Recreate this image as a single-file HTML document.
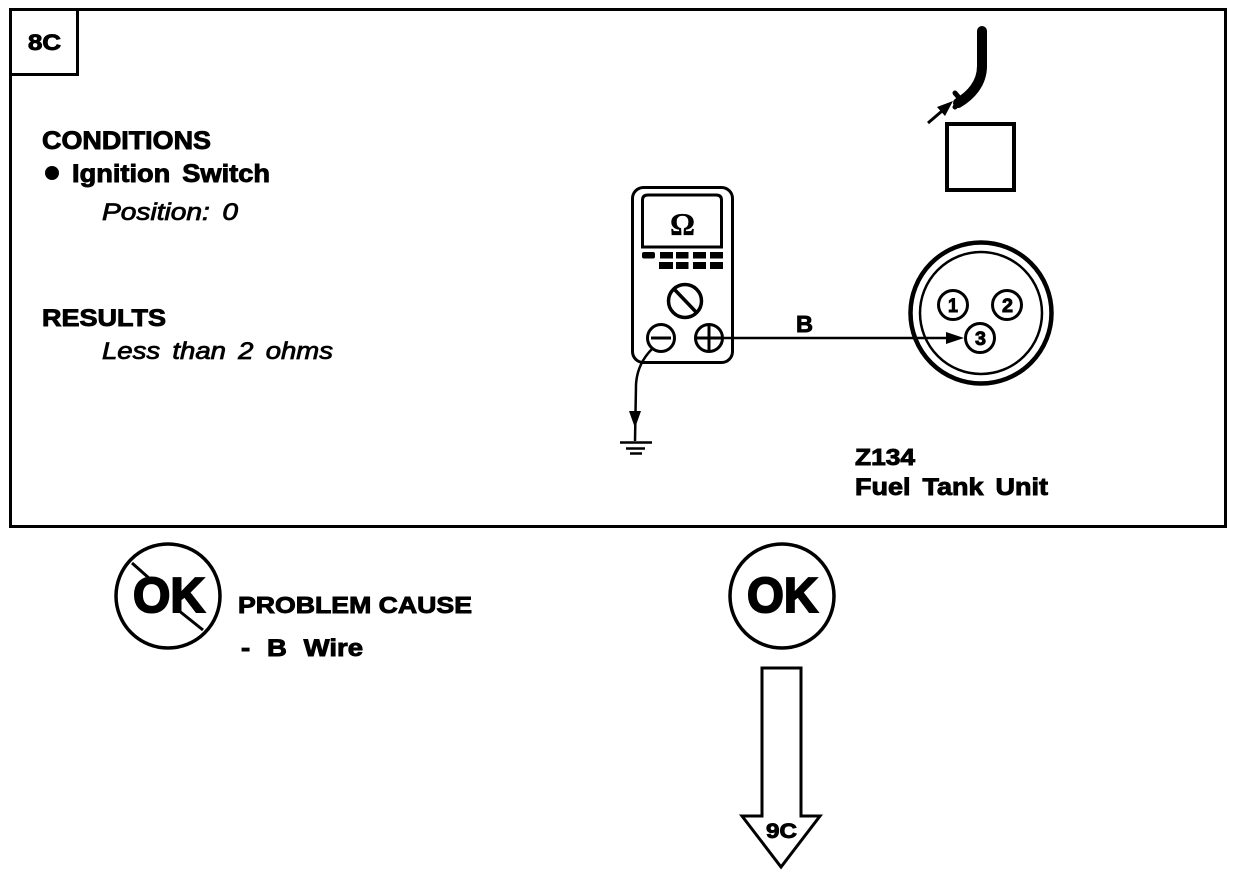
<!DOCTYPE html>
<html><head><meta charset="utf-8"><style>
html,body{margin:0;padding:0;background:#fff;width:1248px;height:876px;overflow:hidden}
svg{display:block}
text{font-family:"Liberation Sans",sans-serif;font-weight:bold;fill:#000;stroke:#000;stroke-width:.9}
.i{font-style:italic;font-weight:normal;stroke-width:.8}
.h{stroke-width:2}
</style></head><body>
<svg width="1248" height="876" viewBox="0 0 1248 876" xmlns="http://www.w3.org/2000/svg">
<g fill="none" stroke="#000">
<rect x="10.5" y="9.500" width="1215" height="517" stroke-width="3"/>
<path d="M11 74.500H77.500V9" stroke-width="3"/>
<!-- connector key -->
<path d="M982 31V66C982 84 970 96 958 103" stroke-width="10" stroke-linecap="round"/>
<path d="M955 93L961 100L955 107" stroke-width="5" stroke-linecap="round"/>
<path d="M928 123L942 111" stroke-width="3"/>
<rect x="947" y="124" width="67" height="66" stroke-width="4"/>
<!-- meter -->
<rect x="632.500" y="187.500" width="100" height="175" rx="11" stroke-width="3"/>
<path d="M642.500 247V200Q642.500 195 648 195H716Q721.500 195 721.500 200V247Z" stroke-width="3"/>
<circle cx="685" cy="301" r="16.500" stroke-width="3.500"/>
<path d="M675 290L696 312" stroke-width="3.500"/>
<circle cx="661" cy="338" r="13.500" stroke-width="3"/>
<path d="M651 338H671" stroke-width="3"/>
<circle cx="709" cy="338" r="13.500" stroke-width="3"/>
<path d="M709 325V351M696 338H722" stroke-width="3"/>
<path d="M722 338H948" stroke-width="2.500"/>
<path d="M652 349Q637 364 636 385L635 441" stroke-width="2.500"/>
<path d="M620 442.500H652M626 448.500H645M630 453.500H642" stroke-width="2.500"/>
<!-- connector -->
<circle cx="981" cy="313" r="70.500" stroke-width="4.500"/>
<circle cx="981" cy="313" r="61" stroke-width="2.500"/>
<circle cx="953" cy="305" r="14.500" stroke-width="3"/>
<circle cx="1007" cy="305" r="14.500" stroke-width="3"/>
<circle cx="980" cy="338" r="14.500" fill="#fff" stroke-width="3"/>
<!-- OK marks -->
<circle cx="168" cy="596" r="52" stroke-width="3.500"/>
<path d="M132 563L150 579M178 610L203 630" stroke-width="3"/>
<circle cx="782" cy="596" r="52" stroke-width="3.500"/>
<path d="M762 668H801V816H820L781 867L742 816H762Z" stroke-width="3"/>
</g>
<g fill="#000">
<path d="M953 101L937 107L945 116Z"/>
<path d="M964 338L946 332V344Z"/>
<path d="M635 428L629 411H641Z"/>
<circle cx="52" cy="173" r="7"/>
<rect x="642" y="252" width="13" height="6.500" rx="2"/>
<rect x="660" y="252" width="13" height="6.500"/><rect x="676" y="252" width="12.500" height="6.500"/><rect x="693" y="252" width="13" height="6.500"/><rect x="710" y="252" width="13" height="6.500"/>
<rect x="659" y="262" width="14" height="7"/><rect x="676" y="262" width="12.500" height="7"/><rect x="693" y="262" width="13" height="7"/><rect x="710" y="262" width="13" height="7"/>
</g>
<text x="28" y="50" font-size="22" textLength="33" lengthAdjust="spacingAndGlyphs">8C</text>
<text x="42" y="149" font-size="25" textLength="169" lengthAdjust="spacingAndGlyphs">CONDITIONS</text>
<text x="72" y="182" font-size="25" textLength="198" lengthAdjust="spacingAndGlyphs" word-spacing="4">Ignition Switch</text>
<text class="i" x="102" y="220" font-size="24" textLength="136" lengthAdjust="spacingAndGlyphs" word-spacing="4">Position: 0</text>
<text x="42" y="326" font-size="24" textLength="124" lengthAdjust="spacingAndGlyphs">RESULTS</text>
<text class="i" x="102" y="359" font-size="24" textLength="231" lengthAdjust="spacingAndGlyphs" word-spacing="4">Less than 2 ohms</text>
<text x="670" y="235" font-size="32" style="font-family:'Liberation Serif',serif;stroke-width:.3" textLength="25" lengthAdjust="spacingAndGlyphs">Ω</text>
<text x="796" y="332" font-size="23" textLength="17" lengthAdjust="spacingAndGlyphs">B</text>
<text x="948" y="312" font-size="19" textLength="10" lengthAdjust="spacingAndGlyphs">1</text>
<text x="1002" y="312" font-size="19" textLength="11" lengthAdjust="spacingAndGlyphs">2</text>
<text x="975" y="345" font-size="19" textLength="11" lengthAdjust="spacingAndGlyphs">3</text>
<text x="855" y="465" font-size="23" textLength="60" lengthAdjust="spacingAndGlyphs">Z134</text>
<text x="855" y="495" font-size="24" textLength="193" lengthAdjust="spacingAndGlyphs" word-spacing="4">Fuel Tank Unit</text>
<text class="h" x="133" y="612" font-size="49" textLength="72" lengthAdjust="spacingAndGlyphs">OK</text>
<text x="238" y="613" font-size="23" textLength="234" lengthAdjust="spacingAndGlyphs">PROBLEM CAUSE</text>
<text x="241" y="656" font-size="24" textLength="122" lengthAdjust="spacingAndGlyphs" word-spacing="8">- B Wire</text>
<text class="h" x="747" y="612" font-size="49" textLength="71" lengthAdjust="spacingAndGlyphs">OK</text>
<text x="766" y="838" font-size="21" textLength="31" lengthAdjust="spacingAndGlyphs">9C</text>
</svg>
</body></html>
